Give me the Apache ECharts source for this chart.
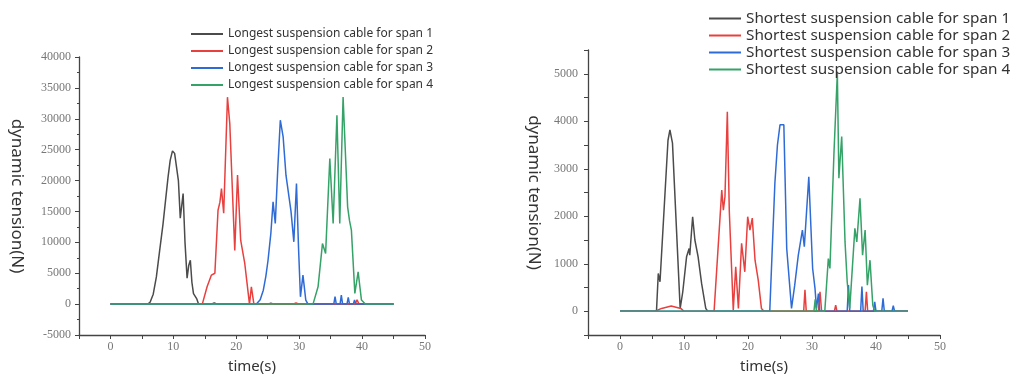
<!DOCTYPE html>
<html>
<head>
<meta charset="utf-8">
<script src="https://cdn.jsdelivr.net/npm/echarts@6/dist/echarts.min.js"></script>
<style>
  html, body { margin: 0; padding: 0; background: #fff; }
  #chart { width: 1014px; height: 380px; }
</style>
</head>
<body>
<div id="chart"></div>
<script>
// [time (s), dynamic tension (N)]
const longSpan1 = [[0,0],[5.9,0],[6.3,300],[6.8,1600],[7.3,4400],[7.8,8500],[8.36,13000],[8.8,17200],[9.16,20600],[9.5,23300],[9.86,24800],[10.2,24400],[10.5,24100],[10.8,20000],[11.1,13900],[11.55,17900],[11.85,10000],[12.18,4200],[12.45,6300],[12.7,7100],[12.95,3500],[13.2,1700],[13.7,900],[14.0,0],[16,0],[16.5,200],[17,0],[25,0],[25.5,150],[26,0],[45,0]];
const longSpan2 = [[0,0],[14.6,0],[15.36,2800],[16.05,4700],[16.6,5000],[17.1,15200],[17.4,16500],[17.65,18700],[18.0,14700],[18.6,33500],[18.97,29200],[19.4,18000],[19.76,8700],[20.2,20900],[20.7,10350],[21.35,6580],[21.9,1730],[22.1,0],[22.4,2800],[22.8,0],[29,0],[29.5,200],[30,0],[38.9,0],[39.2,700],[39.5,0],[45,0]];
const longSpan3 = [[0,0],[23.2,0],[23.8,700],[24.3,2260],[24.7,4500],[25.05,7100],[25.5,11500],[25.85,16550],[26.2,13050],[26.6,22000],[27.0,29770],[27.45,27070],[27.9,20870],[28.2,20600],[28.7,15000],[29.15,10080],[29.57,19500],[29.9,9000],[30.2,1180],[30.6,4700],[31.05,650],[31.4,0],[35.5,0],[35.7,1200],[35.9,0],[36.5,0],[36.7,1450],[36.9,0],[37.6,0],[37.8,1100],[38.0,0],[38.6,0],[38.8,650],[39.0,0],[45,0]];
const longSpan4 = [[0,0],[32.2,0],[33.0,2800],[33.7,9800],[34.2,8200],[34.87,23570],[35.4,13050],[36.0,30580],[36.45,13050],[36.98,33540],[37.7,15740],[38.0,13500],[38.3,11970],[38.85,1730],[39.37,5230],[39.9,650],[40.5,0],[45,0]];

const shortSpan1 = [[0,0],[5.7,0],[5.98,795],[6.25,620],[7.5,3600],[7.8,3820],[8.2,3540],[9.4,60],[9.8,400],[10.4,1146],[10.8,1320],[10.9,1180],[11.35,1990],[11.7,1500],[12.2,1150],[12.75,585],[13.4,60],[13.7,0],[45,0]];
const shortSpan2 = [[0,0],[5.5,0],[6.5,60],[8,110],[9.5,60],[10,0],[14.7,0],[15.9,2550],[16.15,2130],[16.4,2410],[16.77,4200],[17.08,2100],[17.3,2060],[17.7,20],[18.08,935],[18.5,60],[19.0,1430],[19.5,830],[19.95,1990],[20.3,1710],[20.67,1960],[21.1,1075],[21.6,655],[22.1,60],[22.5,0],[28.7,0],[28.9,450],[29.1,0],[31,0],[31.25,410],[31.5,0],[33.5,0],[33.7,130],[33.9,0],[38.3,0],[38.5,410],[38.7,0],[45,0]];
const shortSpan3 = [[0,0],[23.4,0],[24.2,2700],[24.6,3500],[25.0,3925],[25.26,3960],[25.6,3925],[26.05,1320],[26.3,1360],[26.8,60],[27.3,550],[27.86,1180],[28.5,1710],[28.8,1360],[29.5,2830],[30.1,900],[30.47,480],[30.7,60],[31.0,370],[31.2,0],[35.5,0],[35.7,550],[35.9,0],[37.6,0],[37.8,520],[38.0,0],[39.6,0],[39.8,200],[40,0],[40.9,0],[41.1,270],[41.3,0],[42.5,0],[42.7,120],[42.9,0],[45,0]];
const shortSpan4 = [[0,0],[30.3,0],[30.5,250],[30.7,0],[32.0,0],[32.55,1110],[32.8,900],[33.44,3360],[33.96,5015],[34.2,2800],[34.64,3680],[35.16,1460],[35.5,620],[35.9,60],[36.7,1745],[37.0,1460],[37.5,2380],[37.9,1180],[38.3,1710],[38.65,550],[39.06,1075],[39.5,125],[39.8,0],[45,0]];

const longNames = [1, 2, 3, 4].map((n) => "Longest suspension cable for span " + n);
const shortNames = [1, 2, 3, 4].map((n) => "Shortest suspension cable for span " + n);
const lineColors = ["#4b4b4b", "#e8403e", "#2f6bd6", "#35a268"];

const serif = "'Liberation Serif', 'DejaVu Serif', serif";
const sans = "'Noto Sans', 'DejaVu Sans', sans-serif";

function xAxis(gridIndex) {
  return {
    type: "value",
    gridIndex,
    min: -5,
    max: 50,
    interval: 5,
    name: "time(s)",
    nameLocation: "middle",
    nameGap: 24,
    nameTextStyle: { fontFamily: sans, fontSize: 15, color: "#333" },
    axisLine: { onZero: false, lineStyle: { color: "#444", width: 1.3 } },
    axisTick: { length: 4, lineStyle: { color: "#444" } },
    axisLabel: {
      margin: 6,
      fontFamily: serif,
      fontSize: 12,
      color: "#777",
      formatter: (v) => (v >= 0 && v % 10 === 0 ? String(v) : ""),
    },
    splitLine: { show: false },
  };
}

function yAxis(gridIndex, opts) {
  return Object.assign({
    type: "value",
    gridIndex,
    name: "dynamic tension(N)",
    nameLocation: "middle",
    nameRotate: -90,
    nameTextStyle: { fontFamily: sans, fontSize: 17, color: "#333" },
    axisLine: { show: true, onZero: false, lineStyle: { color: "#444", width: 1.3 } },
    axisTick: { show: true, length: 4, lineStyle: { color: "#444" } },
    splitLine: { show: false },
  }, opts);
}

function seriesFor(data, names, axisIndex) {
  return data.map((points, i) => ({
    name: names[i],
    type: "line",
    xAxisIndex: axisIndex,
    yAxisIndex: axisIndex,
    data: points,
    symbol: "none",
    lineStyle: { width: 1.5, color: lineColors[i] },
    itemStyle: { color: lineColors[i] },
    animation: false,
  }));
}

const chart = echarts.init(document.getElementById("chart"), null, { renderer: "canvas" });

chart.setOption({
  backgroundColor: "#fff",
  animation: false,
  grid: [
    { left: 79, top: 57, right: 589, bottom: 45 },
    { left: 588, top: 50, right: 74, bottom: 45 },
  ],
  legend: [
    {
      data: longNames,
      orient: "vertical",
      left: 186,
      top: 22,
      itemGap: 3,
      itemWidth: 32,
      itemHeight: 2,
      icon: "rect",
      textStyle: { fontFamily: sans, fontSize: 12, color: "#333", lineHeight: 14 },
    },
    {
      data: shortNames,
      orient: "vertical",
      left: 704,
      top: 6,
      itemGap: 2,
      itemWidth: 32,
      itemHeight: 2,
      icon: "rect",
      textStyle: { fontFamily: sans, fontSize: 15.3, color: "#333", lineHeight: 14.5 },
    },
  ],
  xAxis: [xAxis(0), xAxis(1)],
  yAxis: [
    yAxis(0, {
      min: -5000,
      max: 40000,
      interval: 5000,
      nameGap: 54,
      minorTick: { show: true, splitNumber: 2, length: 2, lineStyle: { color: "#444" } },
      axisLabel: { margin: 8, fontFamily: serif, fontSize: 12, color: "#777", formatter: (v) => String(v) },
    }),
    yAxis(1, {
      min: -500,
      max: 5500,
      interval: 500,
      nameGap: 46,
      axisLabel: {
        margin: 10,
        fontFamily: serif,
        fontSize: 12,
        color: "#777",
        formatter: (v) => (v >= 0 && v % 1000 === 0 ? String(v) : ""),
      },
    }),
  ],
  series: [
    ...seriesFor([longSpan1, longSpan2, longSpan3, longSpan4], longNames, 0),
    ...seriesFor([shortSpan1, shortSpan2, shortSpan3, shortSpan4], shortNames, 1),
  ],
});
</script>
</body>
</html>
